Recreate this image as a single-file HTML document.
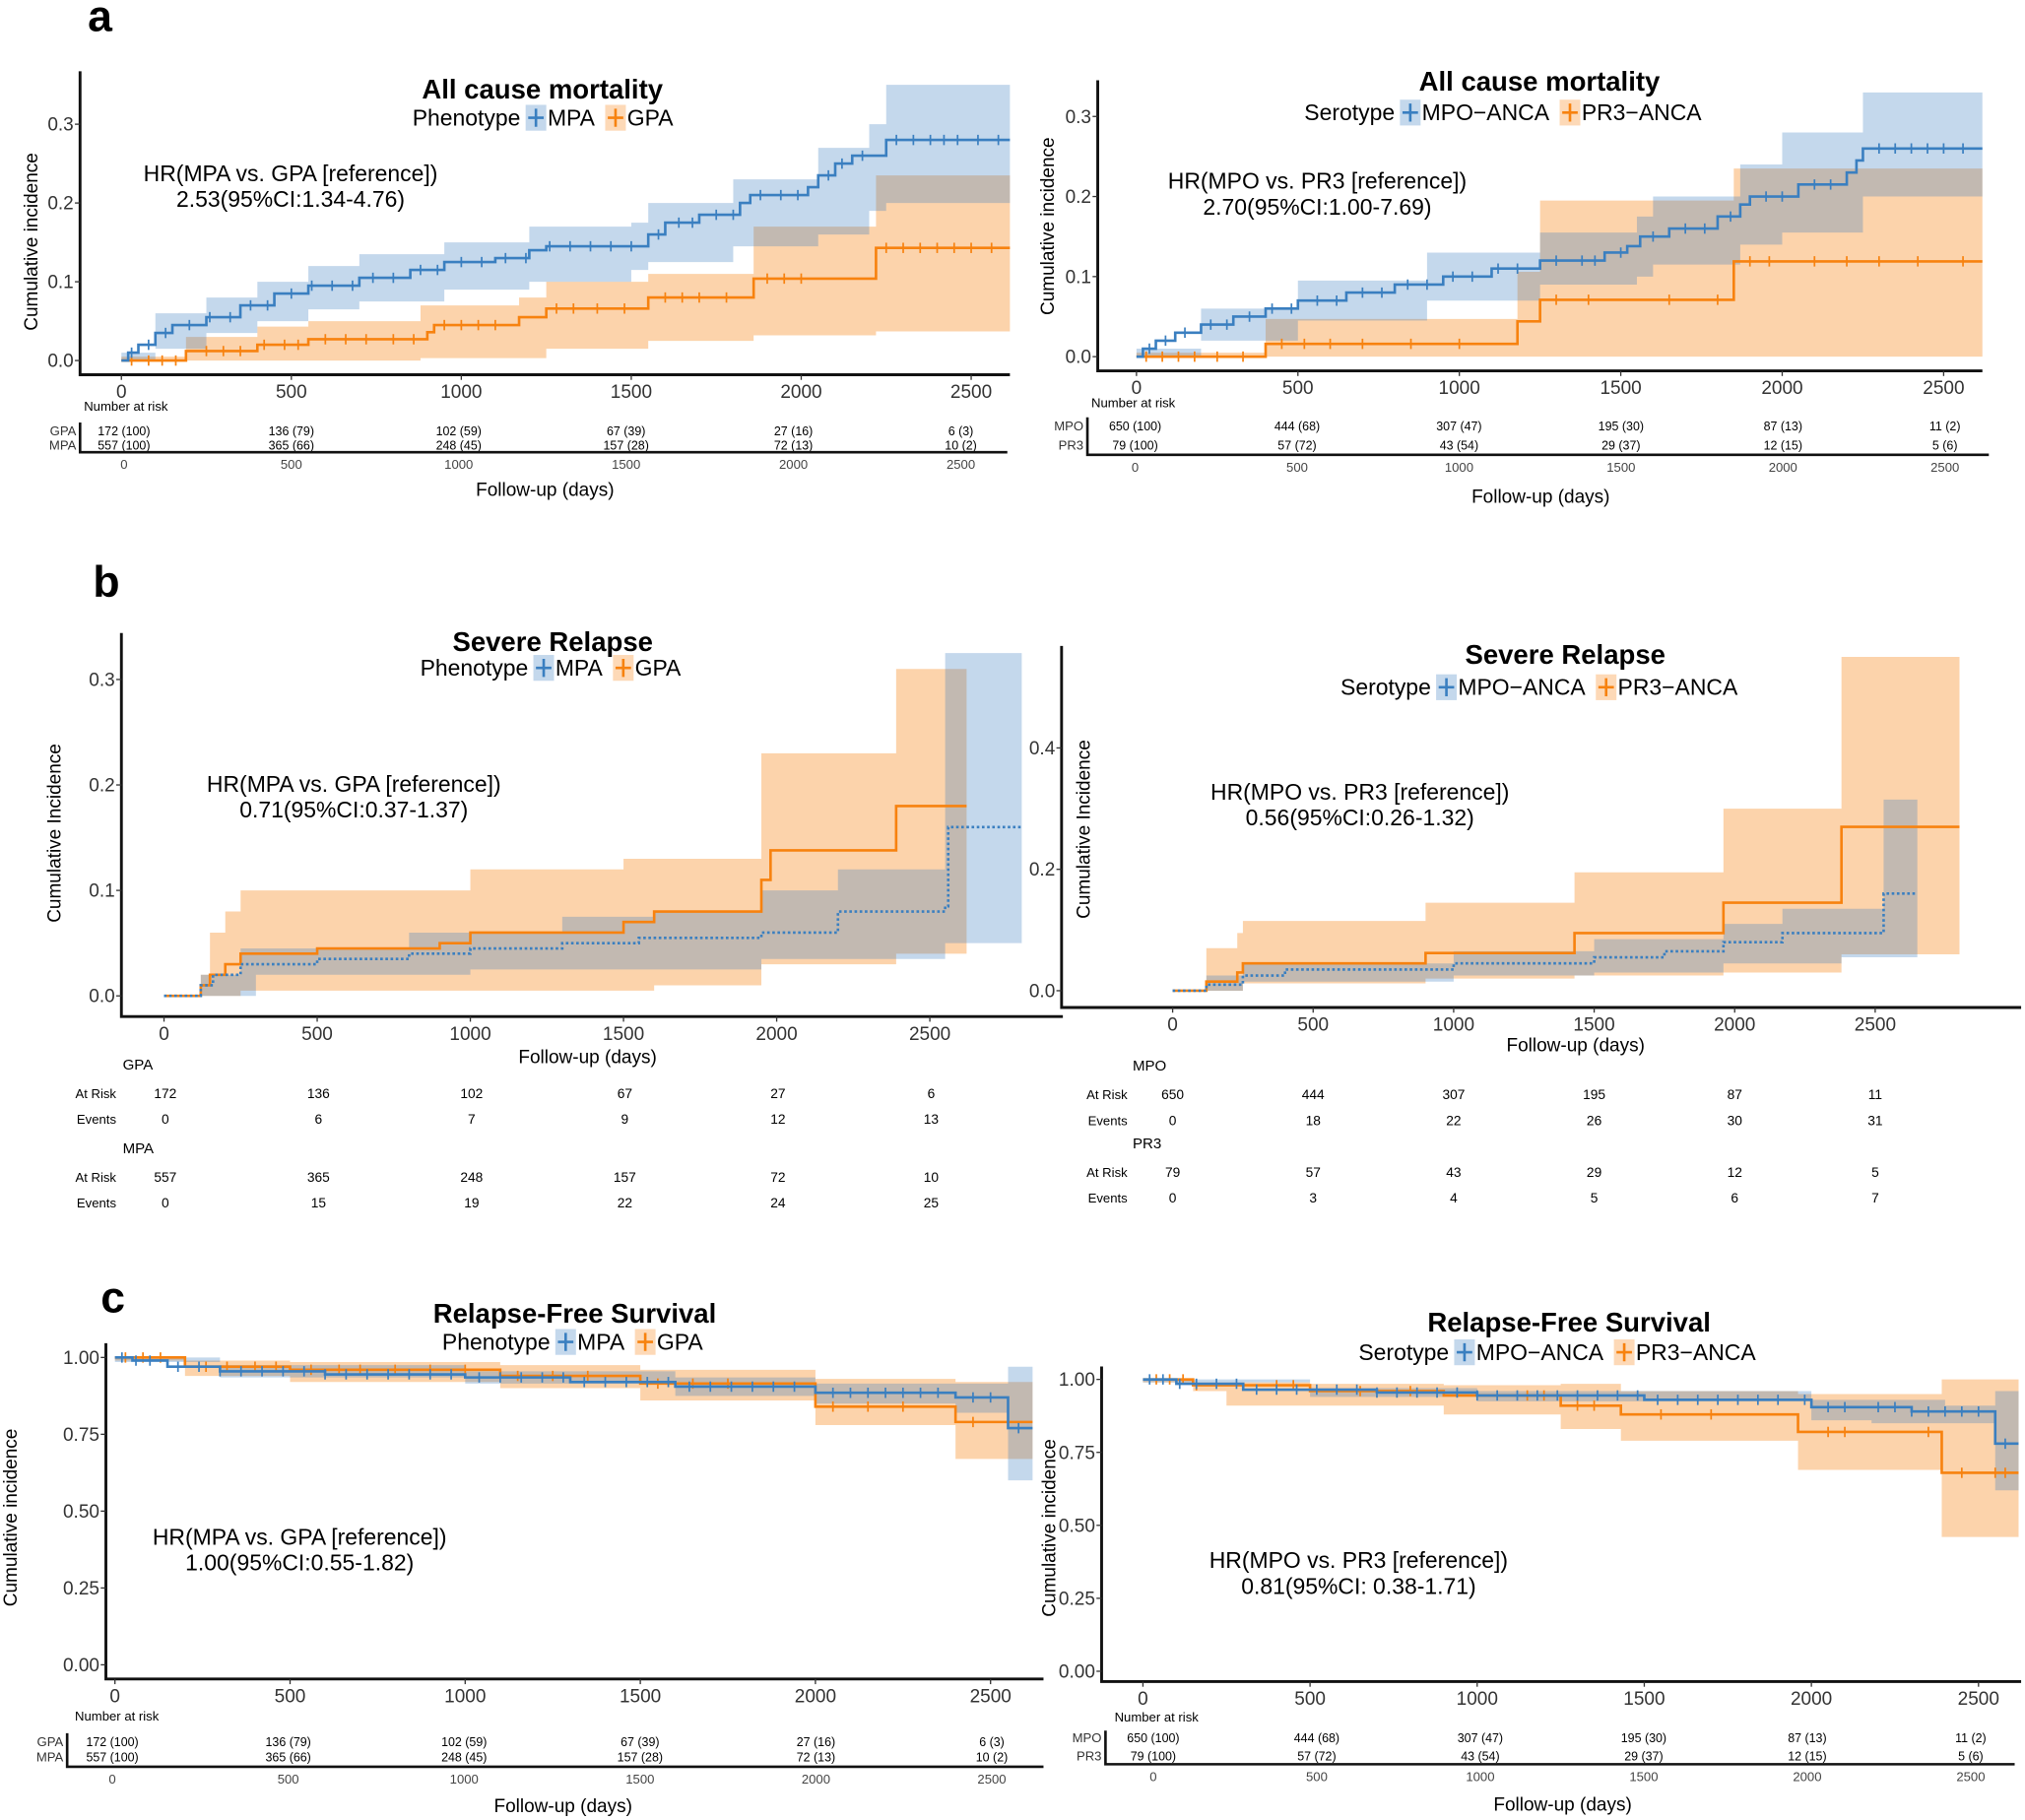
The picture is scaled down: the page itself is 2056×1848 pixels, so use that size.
<!DOCTYPE html>
<html><head><meta charset="utf-8"><style>
html,body{margin:0;padding:0;background:#fff}
svg{display:block;font-family:"Liberation Sans",sans-serif}
</style></head><body>
<svg id="fig" xmlns="http://www.w3.org/2000/svg" width="2056" height="1848" viewBox="0 0 1568 1409">
<rect width="1568" height="1409" fill="#fff"/>
<text x="68" y="24" font-size="34" font-weight="bold">a</text>
<text x="72" y="462" font-size="34" font-weight="bold">b</text>
<text x="78" y="1016" font-size="34" font-weight="bold">c</text>
</svg>
<script>
// ---------- data ----------
const xTicks = [0,500,1000,1500,2000,2500];
const yTicksA = [0,0.1,0.2,0.3];
const yTicksBL = [0,0.1,0.2,0.3];
const yTicksBR = [0,0.2,0.4];
const yTicksC = [0,0.25,0.5,0.75,1];

// Panel a-left (All cause mortality, phenotype)
const aL_mpa = [[0,0],[20,0.01],[50,0.02],[100,0.035],[150,0.045],[250,0.055],[350,0.07],[450,0.085],[550,0.095],[700,0.105],[850,0.115],[950,0.125],[1100,0.13],[1200,0.14],[1250,0.145],[1550,0.16],[1600,0.175],[1700,0.185],[1820,0.2],[1850,0.21],[2020,0.22],[2050,0.235],[2100,0.25],[2150,0.26],[2250,0.28]];
const aL_mpa_hi = [[0,0.01],[100,0.06],[250,0.08],[400,0.1],[550,0.12],[700,0.135],[950,0.15],[1200,0.17],[1500,0.175],[1550,0.2],[1800,0.23],[2050,0.27],[2200,0.3],[2250,0.35]];
const aL_mpa_lo = [[0,0],[100,0.015],[250,0.035],[400,0.05],[550,0.065],[700,0.075],[950,0.09],[1200,0.1],[1500,0.115],[1550,0.125],[1800,0.145],[2050,0.16],[2200,0.19],[2250,0.2]];
const aL_gpa = [[0,0],[190,0.012],[400,0.02],[550,0.027],[900,0.036],[920,0.045],[1170,0.055],[1250,0.066],[1550,0.08],[1860,0.104],[2220,0.143]];
const aL_gpa_hi = [[0,0.005],[190,0.03],[400,0.043],[550,0.05],[880,0.07],[1170,0.08],[1250,0.1],[1550,0.11],[1860,0.17],[2220,0.235]];
const aL_gpa_lo = [[0,0],[880,0.003],[1250,0.015],[1550,0.025],[1860,0.032],[2220,0.037]];
const aL_mpa_cens = [30,80,130,200,260,320,380,430,500,560,620,680,740,800,880,930,1000,1060,1130,1190,1260,1320,1380,1440,1500,1580,1640,1680,1750,1800,1880,1940,1990,2080,2120,2180,2280,2330,2380,2420,2460,2520,2580];
const aL_gpa_cens = [30,80,120,160,250,300,350,420,480,520,600,660,720,800,860,950,1000,1050,1100,1280,1330,1400,1480,1600,1650,1700,1780,1900,1950,2000,2250,2300,2350,2400,2450,2500,2560];
const aL_risk_gpa = ["172 (100)","136 (79)","102 (59)","67 (39)","27 (16)","6 (3)"];
const aL_risk_mpa = ["557 (100)","365 (66)","248 (45)","157 (28)","72 (13)","10 (2)"];

// Panel a-right (All cause mortality, serotype)
const aR_mpo = [[0,0],[20,0.01],[60,0.02],[120,0.03],[200,0.04],[300,0.05],[400,0.06],[500,0.07],[650,0.08],[800,0.09],[950,0.1],[1100,0.11],[1250,0.12],[1450,0.13],[1520,0.138],[1560,0.15],[1650,0.16],[1800,0.175],[1870,0.19],[1900,0.2],[2050,0.215],[2200,0.23],[2230,0.245],[2250,0.26]];
const aR_mpo_hi = [[0,0.01],[200,0.06],[500,0.095],[900,0.13],[1250,0.155],[1550,0.175],[1600,0.2],[1870,0.24],[2000,0.28],[2250,0.33]];
const aR_mpo_lo = [[0,0],[200,0.02],[500,0.045],[900,0.07],[1250,0.09],[1550,0.1],[1600,0.115],[1870,0.14],[2000,0.155],[2250,0.2]];
const aR_pr3 = [[0,0],[400,0.016],[1180,0.044],[1250,0.071],[1850,0.119]];
const aR_pr3_hi = [[0,0.005],[400,0.047],[1180,0.106],[1250,0.195],[1850,0.235]];
const aR_pr3_lo = [[0,0],[1850,0]];
const aR_mpo_cens = [40,90,150,230,280,350,420,480,560,620,700,760,840,900,980,1040,1120,1180,1300,1380,1420,1500,1600,1700,1760,1840,1950,2000,2100,2150,2300,2350,2400,2450,2500,2560];
const aR_pr3_cens = [30,80,130,180,250,330,450,520,600,700,850,1000,1300,1400,1650,1800,1900,1960,2100,2200,2300,2420,2560];
const aR_risk_mpo = ["650 (100)","444 (68)","307 (47)","195 (30)","87 (13)","11 (2)"];
const aR_risk_pr3 = ["79 (100)","57 (72)","43 (54)","29 (37)","12 (15)","5 (6)"];

// Panel b-left (Severe relapse, phenotype)
const bL_gpa = [[0,0],[120,0.01],[150,0.02],[200,0.03],[250,0.04],[500,0.045],[900,0.05],[1000,0.06],[1500,0.07],[1600,0.08],[1950,0.11],[1980,0.138],[2390,0.18],[2620,0.18]];
const bL_gpa_hi = [[0,0],[120,0.02],[150,0.06],[200,0.08],[250,0.1],[1000,0.12],[1500,0.13],[1950,0.23],[2390,0.31],[2620,0.31]];
const bL_gpa_lo = [[0,0],[250,0.005],[1600,0.01],[1950,0.03],[2390,0.04],[2620,0.04]];
const bL_mpa = [[0,0],[120,0.01],[160,0.02],[250,0.03],[500,0.035],[800,0.04],[1000,0.045],[1300,0.05],[1550,0.055],[1950,0.06],[2200,0.08],[2550,0.085],[2560,0.16],[2800,0.16]];
const bL_mpa_hi = [[0,0],[120,0.02],[250,0.045],[800,0.06],[1300,0.075],[1600,0.08],[1950,0.1],[2200,0.12],[2550,0.325],[2800,0.325]];
const bL_mpa_lo = [[0,0],[300,0.02],[1000,0.025],[1950,0.035],[2550,0.05],[2800,0.05]];
const bL_gpa_atrisk = ["172","136","102","67","27","6"];
const bL_gpa_events = ["0","6","7","9","12","13"];
const bL_mpa_atrisk = ["557","365","248","157","72","10"];
const bL_mpa_events = ["0","15","19","22","24","25"];

// Panel b-right (Severe relapse, serotype)
const bR_pr3 = [[0,0],[120,0.015],[230,0.03],[250,0.045],[900,0.062],[1430,0.095],[1960,0.145],[2380,0.27],[2800,0.27]];
const bR_pr3_hi = [[0,0],[120,0.07],[230,0.095],[250,0.115],[900,0.145],[1430,0.195],[1960,0.3],[2380,0.55],[2800,0.55]];
const bR_pr3_lo = [[0,0],[250,0.012],[900,0.02],[1430,0.025],[1960,0.03],[2380,0.06],[2800,0.06]];
const bR_mpo = [[0,0],[120,0.01],[250,0.025],[400,0.035],[1000,0.045],[1500,0.055],[1750,0.065],[1960,0.08],[2170,0.095],[2530,0.16],[2650,0.16]];
const bR_mpo_hi = [[0,0],[120,0.025],[250,0.045],[1000,0.065],[1500,0.085],[1960,0.11],[2170,0.135],[2530,0.315],[2650,0.315]];
const bR_mpo_lo = [[0,0],[250,0.015],[1000,0.025],[1500,0.03],[1960,0.045],[2380,0.055],[2650,0.055]];
const bR_mpo_atrisk = ["650","444","307","195","87","11"];
const bR_mpo_events = ["0","18","22","26","30","31"];
const bR_pr3_atrisk = ["79","57","43","29","12","5"];
const bR_pr3_events = ["0","3","4","5","6","7"];

// Panel c-left (Relapse-free survival, phenotype)
const cL_mpa = [[0,1],[50,0.99],[150,0.97],[300,0.955],[600,0.945],[1000,0.935],[1300,0.92],[1600,0.905],[2000,0.885],[2400,0.87],[2550,0.77]];
const cL_mpa_hi = [[0,1],[300,0.975],[1000,0.955],[1600,0.935],[2000,0.915],[2550,0.97]];
const cL_mpa_lo = [[0,0.985],[300,0.935],[1000,0.915],[1600,0.875],[2000,0.85],[2400,0.82],[2550,0.6]];
const cL_gpa = [[0,1],[200,0.97],[500,0.96],[1100,0.94],[1500,0.915],[2000,0.84],[2400,0.79]];
const cL_gpa_hi = [[0,1],[200,0.99],[500,0.985],[1100,0.975],[1500,0.96],[2000,0.93],[2400,0.92]];
const cL_gpa_lo = [[0,0.99],[200,0.94],[500,0.92],[1100,0.9],[1500,0.86],[2000,0.78],[2400,0.67]];
const cL_mpa_cens = [20,60,100,180,240,300,360,420,480,540,600,660,720,780,840,900,960,1040,1100,1160,1220,1280,1340,1400,1460,1520,1580,1640,1700,1760,1820,1880,1940,2050,2100,2150,2200,2250,2300,2350,2450,2500,2580];
const cL_gpa_cens = [30,80,130,260,320,400,460,560,640,700,800,900,1000,1150,1250,1350,1550,1650,1750,2050,2150,2250,2450,2550];
const cL_risk_gpa = ["172 (100)","136 (79)","102 (59)","67 (39)","27 (16)","6 (3)"];
const cL_risk_mpa = ["557 (100)","365 (66)","248 (45)","157 (28)","72 (13)","10 (2)"];

// Panel c-right (Relapse-free survival, serotype)
const cR_mpo = [[0,1],[100,0.985],[300,0.965],[700,0.955],[1000,0.945],[1500,0.93],[2000,0.905],[2300,0.89],[2550,0.78]];
const cR_mpo_hi = [[0,1],[500,0.97],[1000,0.96],[2000,0.93],[2400,0.91],[2550,0.96]];
const cR_mpo_lo = [[0,0.99],[500,0.94],[1000,0.925],[2000,0.86],[2180,0.85],[2550,0.62]];
const cR_pr3 = [[0,1],[150,0.98],[500,0.96],[900,0.945],[1250,0.91],[1430,0.88],[1960,0.82],[2390,0.68]];
const cR_pr3_hi = [[0,1],[150,0.99],[500,0.985],[900,0.98],[1250,0.985],[1430,0.96],[1960,0.95],[2390,1.0]];
const cR_pr3_lo = [[0,0.99],[150,0.96],[250,0.91],[900,0.88],[1250,0.83],[1430,0.79],[1960,0.69],[2390,0.46]];
const cR_mpo_cens = [20,60,110,160,220,280,340,400,460,520,580,640,700,760,820,880,940,1000,1060,1120,1180,1240,1300,1360,1420,1480,1540,1600,1660,1720,1780,1840,1900,1980,2050,2100,2200,2250,2300,2350,2400,2450,2500,2580];
const cR_pr3_cens = [40,80,120,160,400,450,650,800,1150,1200,1300,1350,1550,1700,2050,2100,2350,2450,2550,2580];
const cR_risk_mpo = ["650 (100)","444 (68)","307 (47)","195 (30)","87 (13)","11 (2)"];
const cR_risk_pr3 = ["79 (100)","57 (72)","43 (54)","29 (37)","12 (15)","5 (6)"];

// ---------- drawing ----------
const NS = "http://www.w3.org/2000/svg";
const svg = document.getElementById('fig');
const BLUE = "#3a7fc0", ORANGE = "#f7820f";
function mk(tag, attrs, parent, txt){
  const e = document.createElementNS(NS, tag);
  for (const k in attrs) e.setAttribute(k, attrs[k]);
  if (txt !== undefined) e.textContent = txt;
  (parent || svg).appendChild(e);
  return e;
}
function stepPath(pts, xs, ys, tEnd){
  let d = "M" + xs(pts[0][0]) + "," + ys(pts[0][1]);
  for (let i = 1; i < pts.length; i++){
    d += "H" + xs(pts[i][0]) + "V" + ys(pts[i][1]);
  }
  d += "H" + xs(tEnd);
  return d;
}
function valAt(pts, t){
  let v = pts[0][1];
  for (const p of pts) if (p[0] <= t) v = p[1];
  return v;
}
function bandPath(hi, lo, xs, ys, tEnd){
  let d = stepPath(hi, xs, ys, tEnd);
  d += "V" + ys(lo[lo.length-1][1]);
  for (let i = lo.length - 1; i >= 0; i--){
    d += "H" + xs(lo[i][0]);
    if (i > 0) d += "V" + ys(lo[i-1][1]);
  }
  return d + "Z";
}
function panel(c){
  const g = mk('g', {});
  
  
  const xs = t => c.x0 + t * c.xk;
  const ys = v => c.y0 - (v - c.ymin) * c.yk;
  const clipId = c.name + "-clip";
  const cp = mk('clipPath', {id: clipId}, g);
  mk('rect', {x: c.left, y: c.top, width: c.right - c.left, height: c.bottom - c.top}, cp);
  const pg = mk('g', {'clip-path': 'url(#' + clipId + ')'}, g);
  c.series.forEach(s => {
    const b = mk('path', {d: bandPath(s.hi, s.lo, xs, ys, s.end), fill: s.color, 'fill-opacity': s.color === BLUE ? 0.3 : 0.35}, pg);
    
    
  });
  c.series.forEach(s => {
    const l = mk('path', {d: stepPath(s.pts, xs, ys, s.end), fill: 'none', stroke: s.color, 'stroke-width': 2, 'stroke-dasharray': s.dash || 'none'}, pg);
    
    
    if (s.cens){
      s.cens.forEach(t => {
        const yy = ys(valAt(s.pts, t));
        const m = mk('path', {d: "M" + xs(t) + "," + (yy - 4) + "V" + (yy + 4), stroke: s.color, 'stroke-width': 1.3}, pg);
        
        
      });
    }
  });
  const ax = mk('path', {d: "M" + c.left + "," + c.top + "V" + c.bottom + "H" + c.right, fill: 'none', stroke: '#111', 'stroke-width': 2.2}, g);
  
  
  c.yticks.forEach(v => {
    mk('path', {d: "M" + (c.left - 4) + "," + ys(v) + "H" + c.left, stroke: '#333', 'stroke-width': 1}, g);
    const t = mk('text', {x: c.left - 5, y: ys(v) + 5, 'text-anchor': 'end', 'font-size': 14.5, fill: '#333'}, g, c.yfmt(v));
    
    
  });
  xTicks.forEach(v => {
    mk('path', {d: "M" + xs(v) + "," + c.bottom + "V" + (c.bottom + 4), stroke: '#333', 'stroke-width': 1}, g);
    const t = mk('text', {x: xs(v), y: c.bottom + 18, 'text-anchor': 'middle', 'font-size': 14.5, fill: '#333'}, g, String(v));
    
    
  });
  const yt = mk('text', {transform: "translate(" + c.ylx + "," + c.yly + ") rotate(-90)", 'text-anchor': 'middle', 'font-size': 14.5}, g, c.ylabel);
  
  
  const tt = mk('text', {x: c.tx, y: c.ty, 'text-anchor': 'middle', 'font-size': 21, 'font-weight': 'bold'}, g, c.title);
  
  
  const lg = mk('g', {}, g);
  
  
  mk('text', {x: c.lx, y: c.ly, 'text-anchor': 'end', 'font-size': 17.5}, lg, c.ltitle);
  let lx = c.lx + 4;
  c.series.slice().sort((a,b)=>a.order-b.order).forEach(s => {
    const e = mk('g', {}, lg);
    
    
    mk('rect', {x: lx, y: c.ly - 16, width: 16, height: 20, fill: s.color, 'fill-opacity': 0.3}, e);
    mk('path', {d: "M" + (lx + 8) + "," + (c.ly - 13) + "V" + (c.ly + 1) + "M" + (lx + 2) + "," + (c.ly - 6) + "H" + (lx + 14), stroke: s.color, 'stroke-width': 2}, e);
    const lt = mk('text', {x: lx + 17, y: c.ly, 'font-size': 17.5}, e, s.label);
    let w = 0;
    try { w = lt.getComputedTextLength(); } catch(err) { w = 0; }
    if (!w) w = s.label.length * 10.5;
    lx += 17 + w + 8;
  });
  c.hr.forEach((line, i) => {
    const h = mk('text', {x: c.hx, y: c.hy + i * 20, 'text-anchor': 'middle', 'font-size': 17.5}, g, line);
    
    
  });
  return {g, xs};
}
function riskTable(p, c){
  const g = mk('g', {});
  
  
  const xs = t => c.x0 + t * c.xk;
  mk('text', {x: c.nx, y: c.ny, 'font-size': 10}, g, "Number at risk");
  c.rows.forEach((r) => {
    mk('text', {x: c.left - 3, y: r.y, 'text-anchor': 'end', 'font-size': 10, fill: '#333'}, g, r.label);
    r.vals.forEach((v, j) => mk('text', {x: xs(xTicks[j]), y: r.y, 'text-anchor': 'middle', 'font-size': 9.5}, g, v));
  });
  mk('path', {d: "M" + c.left + "," + c.top + "V" + c.bottom + "H" + c.right, fill: 'none', stroke: '#111', 'stroke-width': 2}, g);
  xTicks.forEach(v => mk('text', {x: xs(v), y: c.bottom + 13, 'text-anchor': 'middle', 'font-size': 10, fill: '#444'}, g, String(v)));
  const f = mk('text', {x: c.fx, y: c.fy, 'text-anchor': 'middle', 'font-size': 14.5}, g, "Follow-up (days)");
  
  
}
function eventTable(c){
  const g = mk('g', {});
  
  
  c.groups.forEach(gr => {
    mk('text', {x: c.hx, y: gr.y, 'font-size': 11.5}, g, gr.name);
    mk('text', {x: c.lx, y: gr.y + 22, 'text-anchor': 'end', 'font-size': 10}, g, "At Risk");
    mk('text', {x: c.lx, y: gr.y + 42, 'text-anchor': 'end', 'font-size': 10}, g, "Events");
    gr.risk.forEach((v, j) => mk('text', {x: c.x0 + xTicks[j] * c.xk, y: gr.y + 22, 'text-anchor': 'middle', 'font-size': 10.5}, g, v));
    gr.ev.forEach((v, j) => mk('text', {x: c.x0 + xTicks[j] * c.xk, y: gr.y + 42, 'text-anchor': 'middle', 'font-size': 10.5}, g, v));
  });
  const f = mk('text', {x: c.fx, y: c.fy, 'text-anchor': 'middle', 'font-size': 14.5}, g, "Follow-up (days)");
  
  
}
const f1 = v => v.toFixed(1), f2 = v => v.toFixed(2);

panel({name:'panel-a-mortality-phenotype', x0:94, xk:0.2632, y0:279, ymin:0, yk:610, left:62, right:782, top:55, bottom:290,
  yticks:yTicksA, yfmt:f1, ylabel:'Cumulative incidence', ylx:29, yly:187, title:'All cause mortality', tx:420, ty:76,
  ltitle:'Phenotype', lx:403, ly:97, hr:['HR(MPA vs. GPA [reference])','2.53(95%CI:1.34-4.76)'], hx:225, hy:140,
  series:[{key:'gpa',label:'GPA',order:2,color:ORANGE,pts:aL_gpa,hi:aL_gpa_hi,lo:aL_gpa_lo,end:2650,cens:aL_gpa_cens},
          {key:'mpa',label:'MPA',order:1,color:BLUE,pts:aL_mpa,hi:aL_mpa_hi,lo:aL_mpa_lo,end:2650,cens:aL_mpa_cens}]});
riskTable(null,{x0:96, xk:0.2592, nx:65, ny:318, left:62, right:780, top:327, bottom:350, fx:422, fy:384,
  rows:[{label:'GPA',y:337,vals:aL_risk_gpa},{label:'MPA',y:348,vals:aL_risk_mpa}]});

panel({name:'panel-a-mortality-serotype', x0:880, xk:0.25, y0:276, ymin:0, yk:620, left:850, right:1535, top:62, bottom:287,
  yticks:yTicksA, yfmt:f1, ylabel:'Cumulative incidence', ylx:816, yly:175, title:'All cause mortality', tx:1192, ty:70,
  ltitle:'Serotype', lx:1080, ly:93, hr:['HR(MPO vs. PR3 [reference])','2.70(95%CI:1.00-7.69)'], hx:1020, hy:146,
  series:[{key:'pr3',label:'PR3\u2212ANCA',order:2,color:ORANGE,pts:aR_pr3,hi:aR_pr3_hi,lo:aR_pr3_lo,end:2650,cens:aR_pr3_cens},
          {key:'mpo',label:'MPO\u2212ANCA',order:1,color:BLUE,pts:aR_mpo,hi:aR_mpo_hi,lo:aR_mpo_lo,end:2650,cens:aR_mpo_cens}]});
riskTable(null,{x0:879, xk:0.2508, nx:845, ny:315, left:842, right:1540, top:323, bottom:352, fx:1193, fy:389,
  rows:[{label:'MPO',y:333,vals:aR_risk_mpo},{label:'PR3',y:348,vals:aR_risk_pr3}]});

panel({name:'panel-b-relapse-phenotype', x0:127, xk:0.2372, y0:771, ymin:0, yk:816.7, left:94, right:823, top:490, bottom:787,
  yticks:yTicksBL, yfmt:f1, ylabel:'Cumulative Incidence', ylx:47, yly:645, title:'Severe Relapse', tx:428, ty:504,
  ltitle:'Phenotype', lx:409, ly:523, hr:['HR(MPA vs. GPA [reference])','0.71(95%CI:0.37-1.37)'], hx:274, hy:613,
  series:[{key:'gpa',label:'GPA',order:2,color:ORANGE,pts:bL_gpa,hi:bL_gpa_hi,lo:bL_gpa_lo,end:2620},
          {key:'mpa',label:'MPA',order:1,color:BLUE,pts:bL_mpa,hi:bL_mpa_hi,lo:bL_mpa_lo,end:2800,dash:'2,2'}]});
eventTable({x0:128, xk:0.2372, hx:95, lx:90, fx:455, fy:823,
  groups:[{name:'GPA',y:828,risk:bL_gpa_atrisk,ev:bL_gpa_events},{name:'MPA',y:893,risk:bL_mpa_atrisk,ev:bL_mpa_events}]});

panel({name:'panel-b-relapse-serotype', x0:908, xk:0.2176, y0:767, ymin:0, yk:470, left:822, right:1565, top:500, bottom:780,
  yticks:yTicksBR, yfmt:f1, ylabel:'Cumulative Incidence', ylx:844, yly:642, title:'Severe Relapse', tx:1212, ty:514,
  ltitle:'Serotype', lx:1108, ly:538, hr:['HR(MPO vs. PR3 [reference])','0.56(95%CI:0.26-1.32)'], hx:1053, hy:619,
  series:[{key:'pr3',label:'PR3\u2212ANCA',order:2,color:ORANGE,pts:bR_pr3,hi:bR_pr3_hi,lo:bR_pr3_lo,end:2800},
          {key:'mpo',label:'MPO\u2212ANCA',order:1,color:BLUE,pts:bR_mpo,hi:bR_mpo_hi,lo:bR_mpo_lo,end:2650,dash:'2,2'}]});
eventTable({x0:908, xk:0.2176, hx:877, lx:873, fx:1220, fy:814,
  groups:[{name:'MPO',y:829,risk:bR_mpo_atrisk,ev:bR_mpo_events},{name:'PR3',y:889,risk:bR_pr3_atrisk,ev:bR_pr3_events}]});

panel({name:'panel-c-rfs-phenotype', x0:89, xk:0.2712, y0:1289, ymin:0, yk:238, left:82, right:808, top:1040, bottom:1300,
  yticks:yTicksC, yfmt:f2, ylabel:'Cumulative incidence', ylx:13, yly:1175, title:'Relapse-Free Survival', tx:445, ty:1024,
  ltitle:'Phenotype', lx:426, ly:1045, hr:['HR(MPA vs. GPA [reference])','1.00(95%CI:0.55-1.82)'], hx:232, hy:1196,
  series:[{key:'gpa',label:'GPA',order:2,color:ORANGE,pts:cL_gpa,hi:cL_gpa_hi,lo:cL_gpa_lo,end:2620,cens:cL_gpa_cens},
          {key:'mpa',label:'MPA',order:1,color:BLUE,pts:cL_mpa,hi:cL_mpa_hi,lo:cL_mpa_lo,end:2620,cens:cL_mpa_cens}]});
riskTable(null,{x0:87, xk:0.2724, nx:58, ny:1332, left:52, right:808, top:1342, bottom:1368, fx:436, fy:1403,
  rows:[{label:'GPA',y:1352,vals:cL_risk_gpa},{label:'MPA',y:1364,vals:cL_risk_mpa}]});

panel({name:'panel-c-rfs-serotype', x0:885, xk:0.2588, y0:1294, ymin:0, yk:226, left:853, right:1565, top:1058, bottom:1302,
  yticks:yTicksC, yfmt:f2, ylabel:'Cumulative incidence', ylx:817, yly:1183, title:'Relapse-Free Survival', tx:1215, ty:1031,
  ltitle:'Serotype', lx:1122, ly:1053, hr:['HR(MPO vs. PR3 [reference])','0.81(95%CI: 0.38-1.71)'], hx:1052, hy:1214,
  series:[{key:'pr3',label:'PR3\u2212ANCA',order:2,color:ORANGE,pts:cR_pr3,hi:cR_pr3_hi,lo:cR_pr3_lo,end:2620,cens:cR_pr3_cens},
          {key:'mpo',label:'MPO\u2212ANCA',order:1,color:BLUE,pts:cR_mpo,hi:cR_mpo_hi,lo:cR_mpo_lo,end:2620,cens:cR_mpo_cens}]});
riskTable(null,{x0:893, xk:0.2532, nx:863, ny:1333, left:856, right:1560, top:1340, bottom:1366, fx:1210, fy:1402,
  rows:[{label:'MPO',y:1349,vals:cR_risk_mpo},{label:'PR3',y:1363,vals:cR_risk_pr3}]});
</script>
</body></html>
